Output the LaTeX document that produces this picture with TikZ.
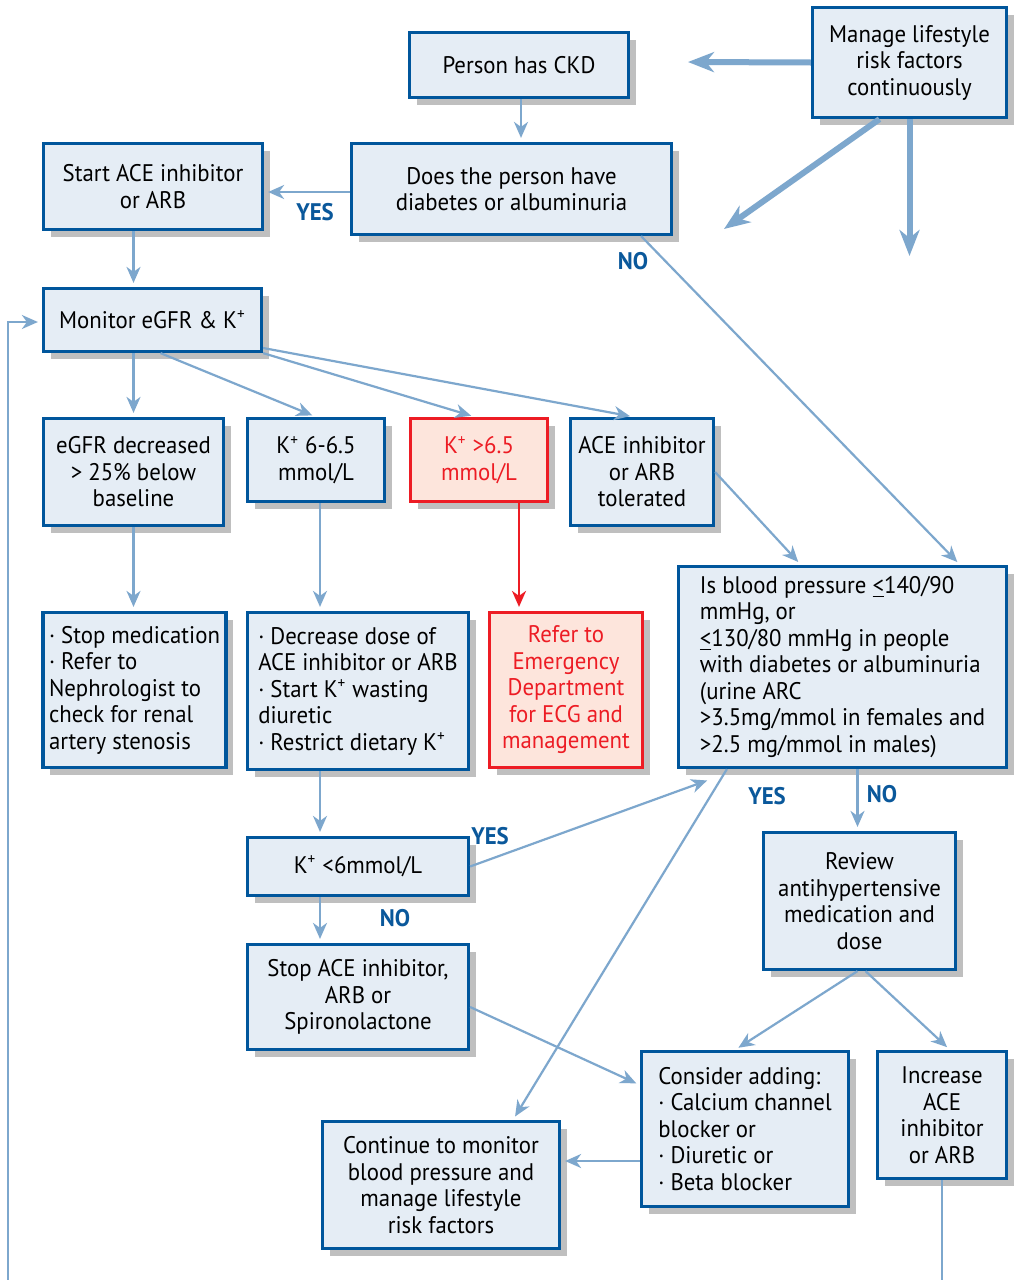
\documentclass[tikz,border=0pt]{standalone}
\usepackage{fontspec}
\setmainfont{PT Sans}[FakeStretch=0.95]
\usetikzlibrary{arrows.meta,shadows}

\definecolor{boxfill}{RGB}{229,237,245}
\definecolor{boxline}{RGB}{0,86,156}
\definecolor{arrowc}{RGB}{125,167,205}
\definecolor{redline}{RGB}{237,28,36}
\definecolor{redfill}{RGB}{253,229,220}
\definecolor{lblc}{RGB}{10,88,155}

\tikzset{
  box/.style={draw=boxline, line width=1.6pt, fill=boxfill, align=center, inner sep=3pt,
    font=\fontsize{12}{13.25}\selectfont,
    drop shadow={shadow xshift=3.5pt, shadow yshift=-3.5pt, fill=black, opacity=0.25}},
  redbox/.style={box, draw=redline, fill=redfill, text=redline},
  link/.style={draw=arrowc, line width=1.1pt},
  arr/.style={link, shorten >=2pt, -{Stealth[length=8pt,width=7pt,inset=2.5pt]}},
  redarr/.style={arr, draw=redline},
  bigarr/.style={draw=arrowc, line width=3pt, -{Stealth[length=13pt,width=10pt,inset=4pt]}},
  lbl/.style={text=lblc, font=\fontsize{12}{13}\selectfont\bfseries},
}

\begin{document}
\begin{tikzpicture}[x=0.5pt, y=-0.5pt]
\path[use as bounding box, fill=white] (0,0) rectangle (1015,1280);

% top row
\node[box, minimum width=109.5pt, minimum height=32.5pt] (ckd) at (519,65) {Person has CKD};
\node[box, minimum width=97pt, minimum height=55pt] (life) at (909.5,62.5) {Manage lifestyle\\risk factors\\continuously};
\node[box, minimum width=160pt, minimum height=45.5pt] (diab) at (511.5,189) {Does the person have\\diabetes or albuminuria};
\node[box, minimum width=109.5pt, minimum height=43pt] (startace) at (153,186.5) {Start ACE inhibitor\\or ARB};
\node[box, minimum width=109pt, minimum height=31.5pt] (monitor) at (152.5,320) {Monitor eGFR \& K\textsuperscript{+}};

% results of monitoring
\node[box, minimum width=90pt, minimum height=53.5pt] (egfr) at (133.5,472) {eGFR decreased\\> 25\% below\\baseline};
\node[box, minimum width=68.5pt, minimum height=41.5pt] (kmid) at (316,460) {K\textsuperscript{+} 6-6.5\\mmol/L};
\node[redbox, minimum width=68.5pt, minimum height=41.5pt] (khigh) at (479,460) {K\textsuperscript{+} >6.5\\mmol/L};
\node[box, minimum width=71.5pt, minimum height=53.5pt] (tol) at (642,472) {ACE inhibitor\\or ARB\\tolerated};

% actions
\node[box, align=left, minimum width=91pt, minimum height=77.5pt] (stopmed) at (134.5,690) {· Stop medication\\· Refer to\\Nephrologist to\\check for renal\\artery stenosis};
\node[box, align=left, minimum width=110.5pt, minimum height=78.5pt] (decr) at (358,691) {· Decrease dose of\\ACE inhibitor or ARB\\· Start K\textsuperscript{+} wasting\\diuretic\\· Restrict dietary K\textsuperscript{+}};
\node[redbox, minimum width=76.5pt, minimum height=77.5pt] (refer) at (566,690) {Refer to\\Emergency\\Department\\for ECG and\\management};
\node[box, align=left, minimum width=164pt, minimum height=100.5pt] (bp) at (842.5,667) {Is blood pressure \underline{<}140/90\\mmHg, or\\\underline{<}130/80 mmHg in people\\with diabetes or albuminuria\\(urine ARC\\>3.5mg/mmol in females and\\>2.5 mg/mmol in males)};

% lower part
\node[box, minimum width=110.5pt, minimum height=29pt] (klow) at (358,866.5) {K\textsuperscript{+} <6mmol/L};
\node[box, minimum width=96pt, minimum height=68.5pt] (review) at (859.5,901) {Review\\antihypertensive\\medication and\\dose};
\node[box, minimum width=110.5pt, minimum height=52.5pt] (stopace) at (358,997) {Stop ACE inhibitor,\\ARB or\\Spironolactone};
\node[box, align=left, minimum width=103.5pt, minimum height=77.5pt] (consider) at (745,1129) {Consider adding:\\· Calcium channel\\blocker or\\· Diuretic or\\· Beta blocker};
\node[box, minimum width=64.5pt, minimum height=63.5pt] (incr) at (942,1115) {Increase\\ACE\\inhibitor\\or ARB};
\node[box, minimum width=118.5pt, minimum height=63.5pt] (cont) at (441,1185) {Continue to monitor\\blood pressure and\\manage lifestyle\\risk factors};

% lifestyle arrows (free ends)
\coordinate (lifeA) at (688,62);
\coordinate (lifeB) at (724,229);
\coordinate (lifeC) at (909.5,256);
\draw[bigarr] (life.west) -- (lifeA);
\draw[bigarr] ([xshift=-15pt]life.south) -- (lifeB);
\draw[bigarr] (life.south) -- (lifeC);

% connectors
\draw[arr] ([xshift=1pt]ckd.south) -- ([xshift=1pt]ckd.south |- diab.north);
\draw[arr] ([yshift=-1.5pt]diab.west) -- ([yshift=-1.5pt]diab.west -| startace.east);
\draw[arr] ([xshift=-16pt]diab.south east) -- ([xshift=-24pt]bp.north east);
\draw[arr] (egfr.north |- startace.south) -- (egfr.north |- monitor.north);
\draw[arr] (egfr.north |- monitor.south) -- (egfr.north);
\draw[arr] ([xshift=4pt]monitor.south) -- (kmid.north);
\draw[arr] (monitor.south east) -- ([xshift=-2pt]khigh.north);
\draw[arr] ([yshift=-14pt]monitor.east) -- ([xshift=-4pt]tol.north);
\draw[arr] (egfr.south) -- (egfr.south |- stopmed.north);
\draw[arr] ([xshift=2pt]kmid.south) -- ([xshift=2pt]kmid.south |- decr.north);
\draw[redarr] ([xshift=20pt]khigh.south) -- ([xshift=20pt]khigh.south |- refer.north);
\draw[arr] (tol.east) -- ([xshift=62pt]bp.north west);
\draw[arr] ([xshift=2pt]kmid.south |- decr.south) -- ([xshift=2pt]kmid.south |- klow.north);
\draw[arr] (klow.east) -- ([xshift=17pt,yshift=-5pt]bp.south west);
\draw[arr] ([xshift=2pt]kmid.south |- klow.south) -- ([xshift=2pt]kmid.south |- stopace.north);
\draw[arr] ([xshift=25pt]bp.south west) -- ([xshift=36pt]cont.north);
\draw[arr] ([xshift=-1pt]review.north |- bp.south) -- ([xshift=-1pt]review.north);
\draw[arr] ([xshift=-1pt]review.south) -- ([xshift=-5pt]consider.north);
\draw[arr] ([xshift=3pt]review.south) -- ([xshift=4pt]incr.north);
\draw[arr] ([yshift=-5pt]stopace.east) -- ([yshift=22pt]consider.west);
\draw[arr] ([yshift=-16pt]consider.west) -- ([yshift=-16pt]consider.west -| cont.east);

% return loop
\coordinate (retB) at (8,1280);
\draw[link] (incr.south) -- (incr.south |- retB);
\draw[arr] (retB) |- ([yshift=-1pt]monitor.west);

% labels
\node[lbl] (yesA) at (315,212) {YES};
\node[lbl] (noA) at (633,261) {NO};
\node[lbl] (yesB) at (490,836) {YES};
\node[lbl] (noB) at (395,918) {NO};
\node[lbl] (yesC) at (767,796) {YES};
\node[lbl] (noC) at (882,794) {NO};
\end{tikzpicture}
\end{document}
